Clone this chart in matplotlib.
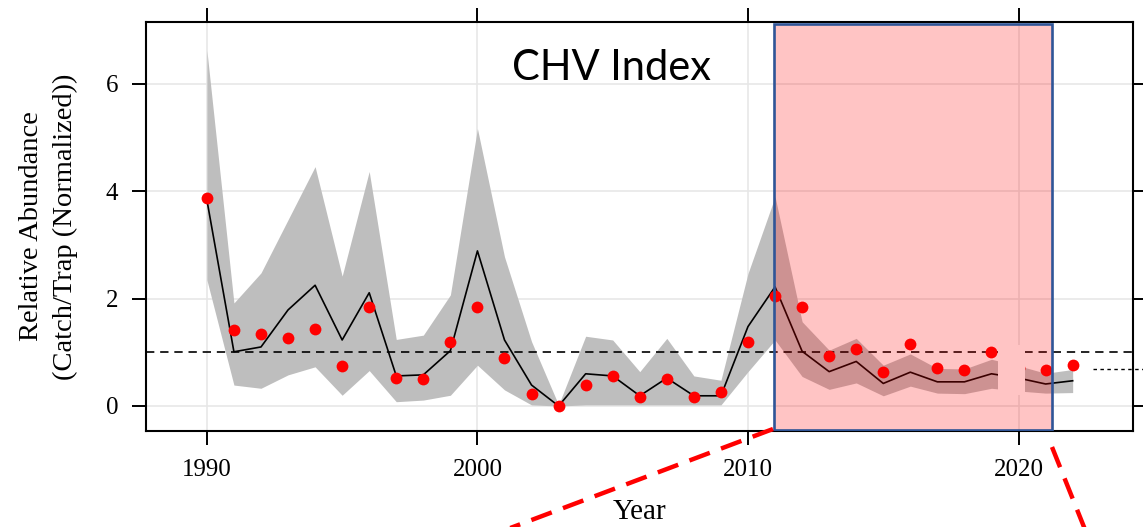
import matplotlib.pyplot as plt
from matplotlib.lines import Line2D
from matplotlib.patches import Rectangle

# Data
years = list(range(1990, 2023))
observed = [
    3.88, 1.42, 1.34, 1.26, 1.43, 0.75, 1.84, 0.53, 0.51, 1.20,
    1.85, 0.90, 0.22, 0.00, 0.39, 0.55, 0.17, 0.50, 0.17, 0.27,
    1.20, 2.05, 1.84, 0.93, 1.06, 0.64, 1.16, 0.71, 0.67, 1.00,
    0.70, 0.67, 0.76,
]
fitted = [
    3.84, 1.01, 1.10, 1.79, 2.25, 1.23, 2.11, 0.56, 0.58, 1.03,
    2.89, 1.23, 0.39, 0.00, 0.60, 0.56, 0.19, 0.52, 0.19, 0.19,
    1.48, 2.22, 1.02, 0.64, 0.83, 0.42, 0.63, 0.45, 0.45, 0.60,
    0.52, 0.41, 0.47,
]
upper = [
    6.63, 1.92, 2.48, 3.47, 4.46, 2.42, 4.37, 1.24, 1.32, 2.07,
    5.17, 2.78, 1.20, 0.02, 1.30, 1.23, 0.64, 1.26, 0.56, 0.48,
    2.47, 3.90, 1.57, 1.04, 1.26, 0.76, 0.97, 0.70, 0.69, 0.87,
    0.75, 0.61, 0.68,
]
lower = [
    2.35, 0.39, 0.33, 0.58, 0.73, 0.20, 0.66, 0.08, 0.11, 0.20,
    0.76, 0.30, 0.02, 0.00, 0.02, 0.02, 0.02, 0.02, 0.02, 0.02,
    0.64, 1.23, 0.55, 0.31, 0.43, 0.19, 0.37, 0.24, 0.23, 0.33,
    0.28, 0.24, 0.25,
]
reference_level = 1.0
x_ticks = [1990, 2000, 2010, 2020]
y_ticks = [0, 2, 4, 6]

W, H = 1143, 527
fig = plt.figure(figsize=(W / 100, H / 100), dpi=100)
ax = fig.add_axes([146 / W, 1 - 431 / H, (1133 - 146) / W, (431 - 22) / H])

serif = ["Liberation Serif", "DejaVu Serif"]

ax.set_xlim(1987.75, 2024.23)
ax.set_ylim(-0.466, 7.155)
ax.set_xticks(x_ticks)
ax.set_yticks(y_ticks)
ax.grid(True, color="#e6e6e6", linewidth=1.1, zorder=0)
ax.set_axisbelow(True)

# Ticks outward on all four sides, labels on left / bottom only
ax.tick_params(axis="both", direction="out", length=10, width=1.4,
               top=True, right=True, labelsize=18, pad=10)
for lab in ax.get_xticklabels() + ax.get_yticklabels():
    lab.set_family(serif)
for sp in ax.spines.values():
    sp.set_linewidth(1.5)

# Confidence band, fitted line and observations
ax.fill_between(years, lower, upper, color="#bebebe", linewidth=0, zorder=1)
ax.axhline(reference_level, color="black", linewidth=1.2,
           linestyle=(0, (5, 3.5)), zorder=2)
ax.plot(years, fitted, color="black", linewidth=1.2, zorder=3)
ax.plot(years, observed, "o", color="red", markersize=8.5,
        markeredgewidth=0, zorder=4)

# White patch hiding the 2020 value
ax.add_patch(Rectangle((2019.24, 0.20), 1.0, 0.94, facecolor="white",
                       edgecolor="none", zorder=5))

# Highlighted recent period
ax.add_patch(Rectangle((2010.96, -0.44), 2021.24 - 2010.96, 7.11 + 0.44,
                       facecolor=(1, 0, 0, 0.23), edgecolor="#2f5597",
                       linewidth=1.9, zorder=6))

ax.text(2004.97, 6.3, "CHV Index", fontsize=30, family=["Lato", "DejaVu Sans"],
        ha="center", va="center", zorder=7)

ax.set_xlabel("Year", fontsize=21, family=serif, labelpad=13)
ax.set_ylabel("Relative Abundance\n(Catch/Trap (Normalized))", fontsize=20.5,
              family=serif, labelpad=20, linespacing=1.45)

# Red dashed zoom lines and dotted marker, in figure pixels
def fig_line(x0, y0, x1, y1, **kw):
    fig.add_artist(Line2D([x0 / W, x1 / W], [1 - y0 / H, 1 - y1 / H],
                          transform=fig.transFigure, clip_on=False, **kw))


fig_line(773, 429, 505, 530, color="red", linewidth=3.2,
         linestyle=(0, (4.9, 2.7)))
fig_line(1052, 447, 1086, 532, color="red", linewidth=3.2,
         linestyle=(0, (4.9, 2.7)))
fig_line(1093, 369.3, 1143, 369.3, color="black", linewidth=1.0,
         linestyle=(0, (2.5, 2.5)))

fig.savefig("out.png", dpi=100)
